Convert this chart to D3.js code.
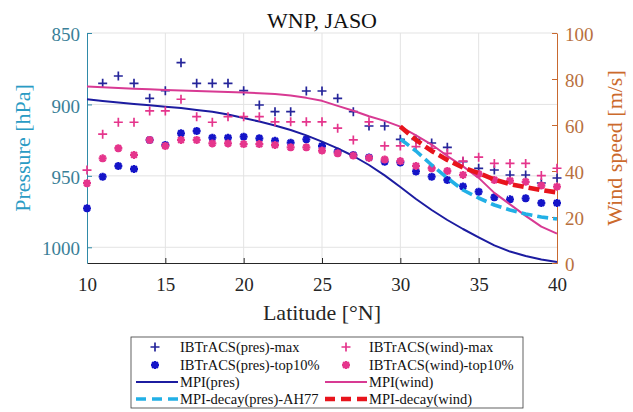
<!DOCTYPE html>
<html><head><meta charset="utf-8">
<script src="https://cdn.jsdelivr.net/npm/d3@7/dist/d3.min.js"></script>
<style>
body{margin:0;background:#fff}
svg{display:block;font-family:"Liberation Serif","Times New Roman",serif}
</style>
</head><body>
<svg id="chart" width="633" height="412"></svg>
<script>
// ---------- data ----------
const latitude   = [10,11,12,13,14,15,16,17,18,19,20,21,22,23,24,25,26,27,28,29,30,31,32,33,34,35,36,37,38,39,40];
const presMax    = [null,885.2,880.1,885.2,895.7,890.4,870.8,885.2,885.2,885.2,890.4,900.4,905.1,905.1,890.6,890.6,895.7,905.1,915.1,915.1,924.4,924.4,927,930,940.1,944.7,945.9,949.4,949.4,955,951.5];
const presTop10  = [972.7,950.6,943.1,945.2,924.9,928.4,920.2,918.6,923.3,923.3,922.6,923.7,925.4,926.8,924.4,929.1,933.1,935.4,937.1,940.1,940.6,946.9,950.6,952.9,957.4,961.1,965,966.4,965.7,969,969];
const windMax    = [40.4,56,61.2,61.2,66.1,66.1,71.2,63.6,61.2,63.6,63.6,63.6,61.4,61.4,61.4,61.4,58.6,53.5,61.4,50.9,50.9,50.6,49.9,47.7,44.3,46,43.3,43.3,43.3,38,41.2];
const windTop10  = [34.7,45.5,49.9,47,53.5,50.9,53.5,53.5,52,52,51.7,51.7,51.3,50.3,50.3,48.9,47.7,46.7,45.7,45,44.3,42.2,41.2,40,38.3,38.7,36.1,35.8,35.3,33.7,33.2];
const mpiPres    = [896.4,897.6,898.6,899.7,900.6,901.6,902.5,903.9,905.1,907,909.5,912,914.7,917.9,921.7,926,930.8,936.1,942.4,949.7,957.8,966.2,973.9,980.9,987.2,993.1,998.7,1003,1006.1,1008.5,1010.3];
const mpiWind    = [76.7,76.4,76.1,75.8,75.5,75.2,75,74.8,74.6,74.4,74.1,73.8,73.5,72.8,71.8,70.5,68.3,66.2,63.8,61.8,59.3,55.5,51.5,46.5,42,37,30.5,25.5,20.5,15.8,12.8];
const decayLat   = [30,31,32,33,34,35,36,37,38,39,40];
const decayPres  = [924.2,932.6,942.4,951.5,959.9,965.5,970.4,973.9,976.7,978.8,980.2];
const decayWind  = [59.3,53.5,48.7,44.8,41.5,39.1,36.3,34.3,33,31.7,30.7];
const xTicks     = [10,15,20,25,30,35,40];
const presTicks  = [850,900,950,1000];
const windTicks  = [0,20,40,60,80,100];
const legendItems = [
  {label:"IBTrACS(pres)-max",      kind:"plus", color:"#25259a"},
  {label:"IBTrACS(wind)-max",      kind:"plus", color:"#e5358c"},
  {label:"IBTrACS(pres)-top10%",   kind:"star", color:"#1414c8"},
  {label:"IBTrACS(wind)-top10%",   kind:"star", color:"#e5358c"},
  {label:"MPI(pres)",              kind:"line", color:"#1c1ca0"},
  {label:"MPI(wind)",              kind:"line", color:"#d83a93"},
  {label:"MPI-decay(pres)-AH77",   kind:"dashB", color:"#22b0e6"},
  {label:"MPI-decay(wind)",        kind:"dashR", color:"#e8141c"}
];

// ---------- layout ----------
const svg = d3.select("#chart");
const L = 87, R = 557, T = 33, B = 263;
const x  = d3.scaleLinear().domain([10,40]).range([L,R]);
const yP = d3.scaleLinear().domain([850,1011]).range([T,B]);
const yW = d3.scaleLinear().domain([0,100]).range([B,T]);

const FF = "Liberation Serif, Times New Roman, serif";
const leftCol = "#2f8aa8", leftTxt = "#3a7f98", rightCol = "#c8692f", rightTxt = "#b8703e";

// grid
const grid = svg.append("g").attr("stroke","#e3e3e3").attr("stroke-width",1);
xTicks.filter(d=>d>10 && d<40).forEach(d=>grid.append("line").attr("x1",x(d)).attr("x2",x(d)).attr("y1",T).attr("y2",B));
presTicks.forEach(d=>grid.append("line").attr("x1",L).attr("x2",R).attr("y1",yP(d)).attr("y2",yP(d)));

// axes
const gx = svg.append("g").attr("transform",`translate(0,${B})`)
  .call(d3.axisBottom(x).tickValues(xTicks).tickSizeInner(-5).tickSizeOuter(0).tickPadding(15).tickFormat(d3.format("d")))
  .attr("font-size",19).attr("font-family",FF);
gx.select(".domain").attr("stroke","#262626");
gx.selectAll(".tick line").attr("stroke","#262626");
gx.selectAll("text").attr("fill","#262626");

const gl = svg.append("g").attr("transform",`translate(${L},0)`)
  .call(d3.axisLeft(yP).tickValues(presTicks).tickSizeInner(-5).tickSizeOuter(0).tickPadding(7).tickFormat(d3.format("d")))
  .attr("font-size",19).attr("font-family",FF);
gl.select(".domain").attr("stroke",leftCol);
gl.selectAll(".tick line").attr("stroke",leftCol);
gl.selectAll("text").attr("fill",leftTxt).attr("dy","0.4em");

const gr = svg.append("g").attr("transform",`translate(${R},0)`)
  .call(d3.axisRight(yW).tickValues(windTicks).tickSizeInner(-5).tickSizeOuter(0).tickPadding(8).tickFormat(d3.format("d")))
  .attr("font-size",19).attr("font-family",FF);
gr.select(".domain").attr("stroke",rightCol);
gr.selectAll(".tick line").attr("stroke",rightCol);
gr.selectAll("text").attr("fill",rightTxt).attr("dy","0.4em");

// labels
svg.append("text").attr("x",(L+R)/2).attr("y",28).attr("text-anchor","middle").attr("font-size",22).attr("fill","#111").text("WNP, JASO");
svg.append("text").attr("x",(L+R)/2).attr("y",320).attr("text-anchor","middle").attr("font-size",22).attr("fill","#262626").text("Latitude [°N]");
svg.append("text").attr("transform",`translate(30,${(T+B)/2}) rotate(-90)`).attr("text-anchor","middle").attr("font-size",22).attr("fill","#2a9bc4").text("Pressure [hPa]");
svg.append("text").attr("transform",`translate(622,${(T+B)/2}) rotate(-90)`).attr("text-anchor","middle").attr("font-size",22).attr("fill","#cc6a2c").text("Wind speed [m/s]");

// marker shapes
const plusPath = "M-4.5,0H4.5M0,-4.5V4.5";
const starPath = "M-4,0H4M0,-4V4M-2.9,-2.9L2.9,2.9M-2.9,2.9L2.9,-2.9";

function drawPoints(vals, yScale, path, color, sw){
  const pts = latitude.map((d,i)=>({lat:d,v:vals[i]})).filter(d=>d.v!=null);
  svg.append("g").selectAll("path").data(pts).join("path")
    .attr("d",path).attr("transform",d=>`translate(${x(d.lat)},${yScale(d.v)})`)
    .attr("fill","none").attr("stroke",color).attr("stroke-width",sw);
}
function drawLine(lats, vals, yScale, color, sw, dash){
  const line = d3.line().x((d,i)=>x(lats[i])).y(d=>yScale(d));
  const p = svg.append("path").attr("d",line(vals)).attr("fill","none").attr("stroke",color)
    .attr("stroke-width",sw).attr("stroke-linejoin","round");
  if(dash) p.attr("stroke-dasharray",dash);
}

// pressure series (left axis)
drawPoints(presMax, yP, plusPath, "#25259a", 1.7);
drawPoints(presTop10, yP, starPath, "#1414c8", 2.3);
drawLine(latitude, mpiPres, yP, "#1c1ca0", 2);
// wind series (right axis)
drawPoints(windMax, yW, plusPath, "#e5358c", 1.7);
drawPoints(windTop10, yW, starPath, "#e5358c", 2.3);
drawLine(latitude, mpiWind, yW, "#d83a93", 2);
drawLine(decayLat, decayPres, yP, "#22b0e6", 3.6, "11,5");
drawLine(decayLat, decayWind, yW, "#e8141c", 4.6, "11,5");

// legend
const lg = svg.append("g");
lg.append("rect").attr("x",131).attr("y",337).attr("width",392).attr("height",71)
  .attr("fill","#fff").attr("stroke","#3a3a3a").attr("stroke-width",0.8);
const rowsY = [347,365,382,399];
const cols = [{lx1:136,lx2:178,mx:155,tx:180},{lx1:325,lx2:367,mx:346,tx:369}];
legendItems.forEach((it,i)=>{
  const c = cols[i%2], y = rowsY[Math.floor(i/2)];
  if(it.kind==="plus") lg.append("path").attr("d",plusPath).attr("transform",`translate(${c.mx},${y})`).attr("stroke",it.color).attr("stroke-width",1.7).attr("fill","none");
  else if(it.kind==="star") lg.append("path").attr("d",starPath).attr("transform",`translate(${c.mx},${y})`).attr("stroke",it.color).attr("stroke-width",2.3).attr("fill","none");
  else {
    const l = lg.append("line").attr("x1",c.lx1).attr("x2",c.lx2).attr("y1",y).attr("y2",y).attr("stroke",it.color);
    if(it.kind==="line") l.attr("stroke-width",2);
    if(it.kind==="dashB") l.attr("stroke-width",3.6).attr("stroke-dasharray","10,6");
    if(it.kind==="dashR") l.attr("stroke-width",4.6).attr("stroke-dasharray","10,6");
  }
  lg.append("text").attr("x",c.tx).attr("y",y).attr("dy","0.35em").attr("font-size",14.5).attr("fill","#111").text(it.label);
});
</script>
</body></html>
